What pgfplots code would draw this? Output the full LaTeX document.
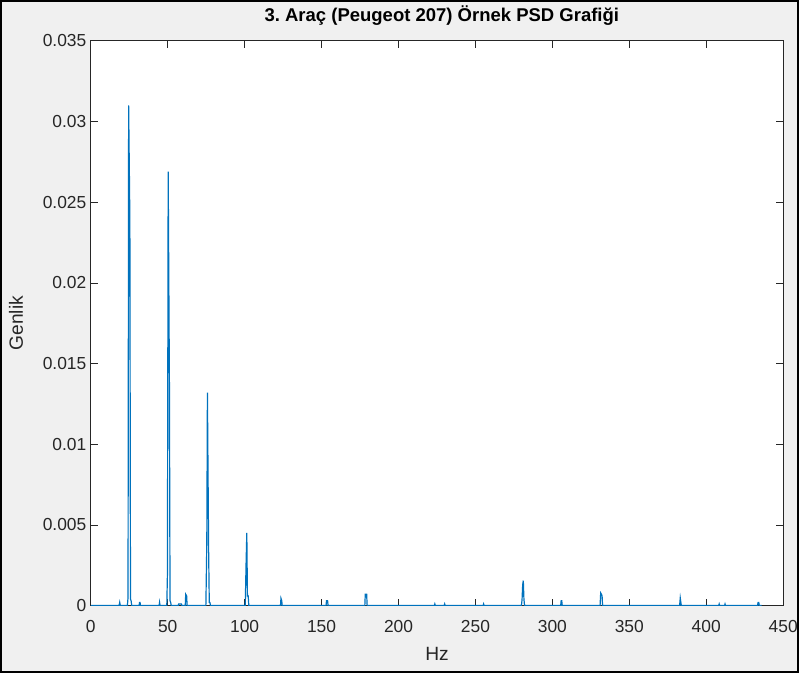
\documentclass[border=0pt]{standalone}
\usepackage{pgfplots}
\pgfplotsset{compat=1.18}
\usepackage{fontspec}
\setmainfont{Liberation Sans}
\definecolor{mblue}{HTML}{0072BD}
\definecolor{mgray}{HTML}{262626}
\definecolor{bggray}{HTML}{F0F0F0}
\begin{document}
\frenchspacing
\begin{tikzpicture}[x=1bp,y=1bp]
\draw[line width=2.5bp, fill=bggray] (1.25,1.25) rectangle (799.75,673.75);
\begin{axis}[
  at={(91bp,68bp)}, anchor=south west,
  scale only axis, width=694bp, height=566bp,
  xmin=0, xmax=450, ymin=0, ymax=0.035,
  xtick={0,50,100,150,200,250,300,350,400,450},
  ytick={0,0.005,0.01,0.015,0.02,0.025,0.03,0.035},
  scaled y ticks=false,
  /pgf/number format/assume math mode=true,
  tick align=inside, major tick length=7bp,
  axis line style={mgray, line width=0.8bp},
  every tick/.style={mgray, line width=0.8bp},
  tick label style={font=\fontsize{17.5}{19}\selectfont, text=mgray},
  xticklabel style={yshift=-11bp},
  yticklabel style={xshift=-1bp, /pgf/number format/.cd, fixed, precision=3},
  axis background/.style={fill=white},
  title={3.\ Araç (Peugeot 207) Örnek PSD Grafiği},
  title style={font=\bfseries\fontsize{18.6}{22}\selectfont, at={(axis description cs:0.507,1.023)}, anchor=base},
  xlabel={Hz},
  xlabel style={font=\fontsize{19.3}{22}\selectfont, text=mgray, at={(axis description cs:0.5,-0.0972)}, anchor=base},
  ylabel={Genlik},
  ylabel style={font=\fontsize{19.3}{22}\selectfont, text=mgray, at={(axis description cs:-0.098,0.5)}, anchor=base},
]
\addplot[mblue, line width=1.2bp, line join=miter] coordinates {
(0,0) (18.4,0) (18.8,0.0002) (19.2,0)
(23.8,0) (24.2,0.0005) (24.6,0.0310) (25.4,0.0239) (25.8,0.0004) (26.2,0.0003) (26.6,0)
(31.4,0) (31.7,0.0002) (32.0,0.0002) (32.3,0)
(44.4,0) (44.7,0.0002) (45.0,0)
(49.4,0) (49.8,0.0019) (50.3,0.0269) (51.1,0.0137) (51.5,0.0003) (51.9,0.0002) (52.3,0)
(56.8,0) (57.1,0.0001) (58.9,0.0001) (59.2,0)
(61.4,0) (61.7,0.0007) (62.3,0.0006) (62.6,0)
(74.8,0) (75.4,0.0039) (75.8,0.0132) (76.6,0.0033) (77.0,0.0002) (77.4,0.0002) (77.8,0)
(100.4,0) (100.9,0.0025) (101.4,0.0045) (101.8,0.0006) (102.3,0.0006) (102.7,0)
(123.3,0) (123.6,0.00045) (124.1,0.0003) (124.4,0)
(152.9,0) (153.2,0.0003) (153.9,0.0003) (154.2,0)
(178.1,0) (178.4,0.0007) (179.3,0.0007) (179.6,0)
(223.3,0) (223.6,0.0001) (223.9,0)
(229.7,0) (230.0,0.0001) (230.3,0)
(255.0,0) (255.3,0.0001) (255.6,0)
(279.9,0) (280.3,0.0004) (280.7,0.0013) (281.1,0.00155) (281.5,0.0004) (281.9,0)
(305.4,0) (305.7,0.0003) (306.1,0.0003) (306.4,0)
(331.0,0) (331.4,0.00078) (331.9,0.0007) (332.3,0.0006) (332.6,0)
(382.7,0) (383.1,0.00047) (383.5,0.0002) (383.8,0)
(408.1,0) (408.4,0.0001) (408.7,0)
(411.9,0) (412.2,0.0001) (412.5,0)
(433.3,0) (433.7,0.0002) (434.1,0.0002) (434.5,0)
(436.0,0)
};
\end{axis}
\end{tikzpicture}
\end{document}
